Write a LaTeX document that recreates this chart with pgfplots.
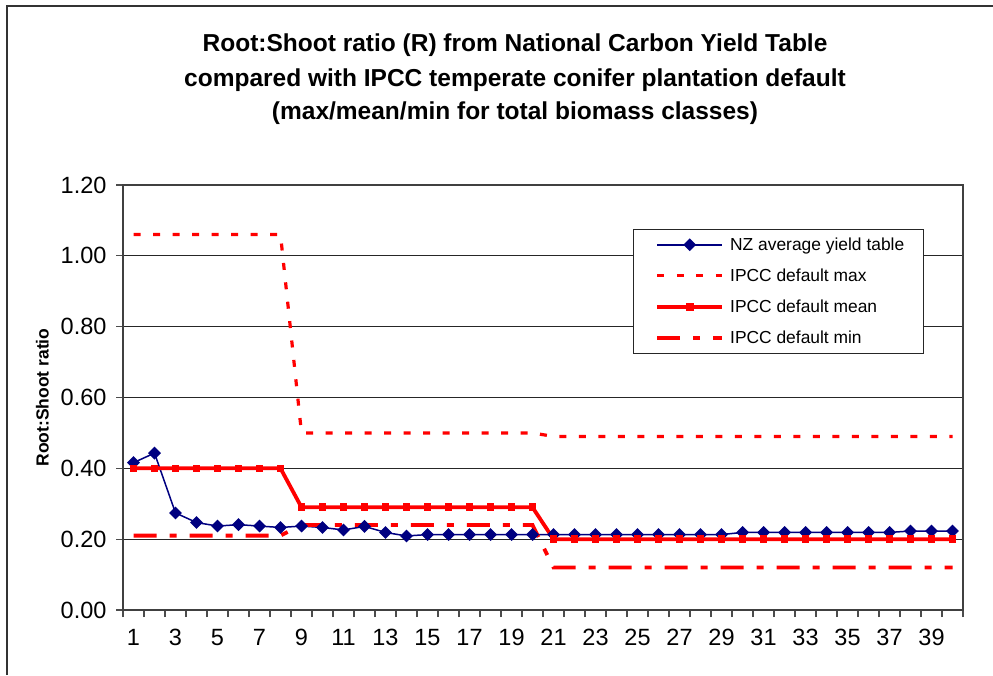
\documentclass[border=0pt]{standalone}
\usepackage{pgfplots}
\pgfplotsset{compat=1.18}
\usepackage{pgfplotstable}
\usepackage{fontspec}
\setmainfont{Liberation Sans}
\definecolor{nzblue}{RGB}{0,0,128}
\definecolor{ipccred}{RGB}{255,0,0}

\pgfplotstableread{
x   nz     max   mean  min
1   0.416  1.06  0.40  0.21
2   0.443  1.06  0.40  0.21
3   0.274  1.06  0.40  0.21
4   0.247  1.06  0.40  0.21
5   0.237  1.06  0.40  0.21
6   0.241  1.06  0.40  0.21
7   0.237  1.06  0.40  0.21
8   0.233  1.06  0.40  0.21
9   0.237  0.50  0.29  0.24
10  0.233  0.50  0.29  0.24
11  0.226  0.50  0.29  0.24
12  0.236  0.50  0.29  0.24
13  0.219  0.50  0.29  0.24
14  0.209  0.50  0.29  0.24
15  0.213  0.50  0.29  0.24
16  0.213  0.50  0.29  0.24
17  0.213  0.50  0.29  0.24
18  0.213  0.50  0.29  0.24
19  0.213  0.50  0.29  0.24
20  0.213  0.50  0.29  0.24
21  0.213  0.49  0.20  0.12
22  0.213  0.49  0.20  0.12
23  0.213  0.49  0.20  0.12
24  0.213  0.49  0.20  0.12
25  0.213  0.49  0.20  0.12
26  0.213  0.49  0.20  0.12
27  0.213  0.49  0.20  0.12
28  0.213  0.49  0.20  0.12
29  0.213  0.49  0.20  0.12
30  0.219  0.49  0.20  0.12
31  0.219  0.49  0.20  0.12
32  0.219  0.49  0.20  0.12
33  0.219  0.49  0.20  0.12
34  0.219  0.49  0.20  0.12
35  0.219  0.49  0.20  0.12
36  0.219  0.49  0.20  0.12
37  0.219  0.49  0.20  0.12
38  0.223  0.49  0.20  0.12
39  0.223  0.49  0.20  0.12
40  0.223  0.49  0.20  0.12
}\ratios

\begin{document}
\begin{tikzpicture}
\useasboundingbox (0,0) rectangle (993pt,675pt);
% chart frame (only left and top edges fall inside the picture)
\draw[line width=1.5pt, black!80] (7pt,0) -- (7pt,669pt) -- (993pt,669pt);

% title
\begin{scope}[every node/.style={font=\fontsize{24.5}{28}\selectfont\bfseries, inner sep=0pt}]
\node at (515pt,630pt) {Root:Shoot ratio (R) from National Carbon Yield Table};
\node at (515pt,595pt) {compared with IPCC temperate conifer plantation default};
\node at (515pt,562pt) {(max/mean/min for total biomass classes)};
\end{scope}

\begin{axis}[
    at={(123pt,65pt)}, anchor=south west,
    scale only axis, width=840pt, height=425pt,
    xmin=0.5, xmax=40.5, ymin=0, ymax=1.2,
    xtick={0.5,1.5,...,40.5}, xticklabels={},
    extra x ticks={1,3,...,39},
    extra x tick style={major tick length=0pt, xticklabel style={yshift=-16pt}},
    xtick pos=bottom, ytick pos=left,
    ytick={0,0.2,0.4,0.6,0.8,1.0,1.2},
    yticklabel style={/pgf/number format/fixed, /pgf/number format/fixed zerofill,
        /pgf/number format/precision=2, xshift=-6pt},
    /pgf/number format/assume math mode=true,
    tick label style={font=\fontsize{23.5}{27}\selectfont},
    tick align=outside, major tick length=7pt,
    tick style={line width=1.2pt, black!70},
    ymajorgrids, grid style={line width=0.9pt, black!85},
    axis line style={line width=1.3pt, black!75},
    ylabel={Root:Shoot ratio},
    ylabel style={font=\fontsize{17.5}{20}\selectfont\bfseries, at={(axis description cs:-0.096,0.5)}, anchor=center},
    legend style={at={(0.607,0.896)}, anchor=north west, draw=black!85, line width=1pt,
        font=\fontsize{17.4}{20}\selectfont, row sep=13pt, inner xsep=17pt, inner ysep=6pt},
    legend cell align=left,
    legend image code/.code={\path (0pt,0pt) (74pt,0pt); \draw[mark repeat=2, mark phase=2, #1] plot coordinates {(5pt,0pt) (37.5pt,0pt) (70pt,0pt)};},
]
\addplot[nzblue, line width=1.5pt, mark=square*, mark size=3.8pt, mark options={rotate=45, solid}] table[x=x, y=nz] {\ratios};
\addlegendentry{NZ average yield table}
\addplot[ipccred, line width=3.2pt, dash pattern=on 7pt off 12.5pt] table[x=x, y=max] {\ratios};
\addlegendentry{IPCC default max}
\addplot[ipccred, line width=3.8pt, mark=square*, mark size=3.3pt, mark options={solid, line width=0pt}] table[x=x, y=mean] {\ratios};
\addlegendentry{IPCC default mean}
\addplot[ipccred, line width=3.8pt, dash pattern=on 23pt off 13pt on 7pt off 13pt] table[x=x, y=min] {\ratios};
\addlegendentry{IPCC default min}
\end{axis}
\end{tikzpicture}
\end{document}
